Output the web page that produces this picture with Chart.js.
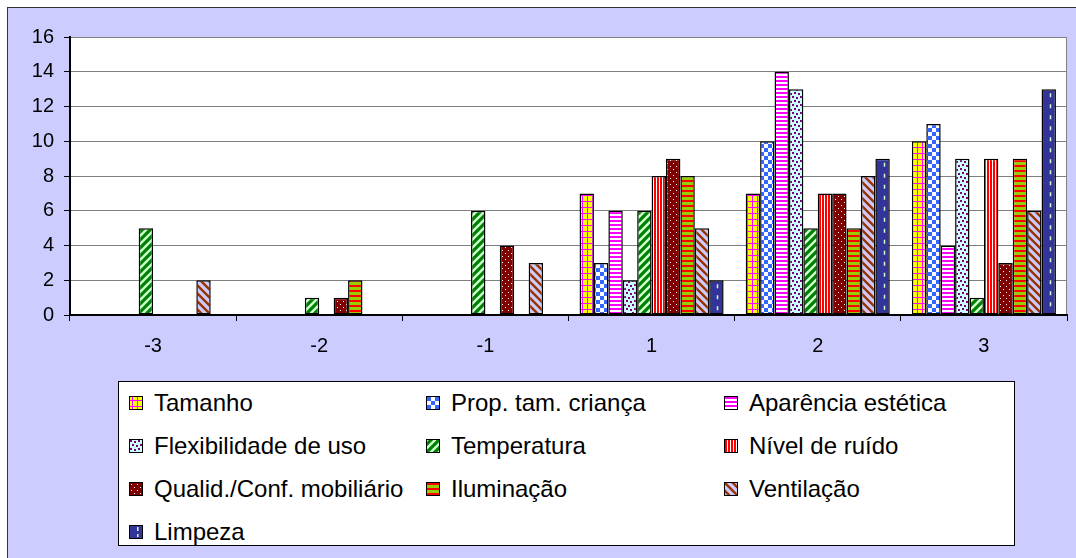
<!DOCTYPE html>
<html><head><meta charset="utf-8">
<script src="https://cdn.jsdelivr.net/npm/chart.js@4.4.1/dist/chart.umd.min.js"></script>
<style>
html,body{margin:0;padding:0;background:#fff;}
#wrap{position:relative;width:1076px;height:558px;background:#fff;overflow:hidden;}
#frame{position:absolute;left:7px;top:7px;width:1200px;height:700px;background:#CCCCFF;border-left:1px solid #333;border-top:1px solid #333;}
#c{position:absolute;left:0;top:0;}
#legend{position:absolute;left:118px;top:381px;width:897px;height:165px;background:#fff;border:1px solid #000;box-sizing:border-box;font-family:"Liberation Sans",Arial,sans-serif;font-size:24px;color:#000;}
.item{position:absolute;height:20px;display:flex;align-items:center;white-space:nowrap;}
.item canvas{display:block;width:12px;height:12px;border:1px solid #000;margin-right:11px;}
</style>
</head><body>
<div id="wrap">
<div id="frame"></div>
<canvas id="c" width="1076" height="558"></canvas>
<div id="legend"></div>
</div>
<script>
// ---- data ----
const categories = ['-3', '-2', '-1', '1', '2', '3'];
const seriesNames = ['Tamanho', 'Prop. tam. criança', 'Aparência estética', 'Flexibilidade de uso', 'Temperatura', 'Nível de ruído', 'Qualid./Conf. mobiliário', 'Iluminação', 'Ventilação', 'Limpeza'];
const tamanho      = [0, 0, 0, 7, 7, 10];
const propTam      = [0, 0, 0, 3, 10, 11];
const aparencia    = [0, 0, 0, 6, 14, 4];
const flexibilidade= [0, 0, 0, 2, 13, 9];
const temperatura  = [5, 1, 6, 6, 5, 1];
const ruido        = [0, 0, 0, 8, 7, 9];
const mobiliario   = [0, 1, 4, 9, 7, 3];
const iluminacao   = [0, 2, 0, 8, 5, 9];
const ventilacao   = [2, 0, 3, 5, 8, 6];
const limpeza      = [0, 0, 0, 2, 9, 13];
const yTicks = [0, 2, 4, 6, 8, 10, 12, 14, 16];
const seriesValues = [tamanho, propTam, aparencia, flexibilidade, temperatura, ruido, mobiliario, iluminacao, ventilacao, limpeza];

// ---- pattern tiles ----
function tile(w, h, draw) { const c = document.createElement('canvas'); c.width = w; c.height = h; const x = c.getContext('2d'); draw(x, w, h); return c; }
const tiles = [
  tile(5, 6, (x) => { x.fillStyle = '#FFFF00'; x.fillRect(0,0,5,6); x.fillStyle = '#FF00FF'; x.fillRect(2,0,1,6); x.fillRect(0,3,5,1); }),
  tile(8, 8, (x) => { x.fillStyle = '#fff'; x.fillRect(0,0,8,8); x.fillStyle = '#3366FF'; x.fillRect(0,0,4,4); x.fillRect(4,4,4,4); }),
  tile(1, 4, (x) => { x.fillStyle = '#fff'; x.fillRect(0,0,1,4); x.fillStyle = '#FF00FF'; x.fillRect(0,0,1,2); }),
  tile(8, 8, (x) => { x.fillStyle = '#CCFFFF'; x.fillRect(0,0,8,8); x.fillStyle = '#800080'; [[0,0],[4,1],[2,4],[6,5]].forEach(p => x.fillRect(p[0], p[1], 2, 2)); }),
  tile(8, 8, (x) => { x.fillStyle = '#008000'; x.fillRect(0,0,8,8); x.strokeStyle = '#CCFFCC'; x.lineWidth = 2.4; x.beginPath(); x.moveTo(-1,9); x.lineTo(9,-1); x.moveTo(-1,1); x.lineTo(1,-1); x.moveTo(7,9); x.lineTo(9,7); x.stroke(); }),
  tile(3, 1, (x) => { x.fillStyle = '#fff'; x.fillRect(0,0,3,1); x.fillStyle = '#FF0000'; x.fillRect(0,0,2,1); }),
  tile(6, 6, (x) => { x.fillStyle = '#800000'; x.fillRect(0,0,6,6); x.fillStyle = '#fff'; x.fillRect(1,1,1,1); x.fillRect(4,4,1,1); }),
  tile(1, 5, (x) => { x.fillStyle = '#99CC00'; x.fillRect(0,0,1,5); x.fillStyle = '#FF0000'; x.fillRect(0,0,1,2); }),
  tile(8, 8, (x) => { x.fillStyle = '#CCCCFF'; x.fillRect(0,0,8,8); x.strokeStyle = '#993300'; x.lineWidth = 2.4; x.beginPath(); x.moveTo(-1,-1); x.lineTo(9,9); x.moveTo(-1,7); x.lineTo(1,9); x.moveTo(7,-1); x.lineTo(9,1); x.stroke(); }),
  tile(4, 4, (x) => { x.fillStyle = '#333399'; x.fillRect(0,0,4,4); })
];

const canvas = document.getElementById('c');
const ctx = canvas.getContext('2d');
const patterns = tiles.map(t => ctx.createPattern(t, 'repeat'));

const FONT = '"Liberation Sans", Arial, sans-serif';

const plotBg = {
  id: 'plotBg',
  beforeDraw(chart) {
    const a = chart.chartArea, c = chart.ctx;
    c.save(); c.fillStyle = '#fff'; c.fillRect(a.left, a.top, a.right - a.left, a.bottom - a.top);
    c.strokeStyle = '#808080'; c.lineWidth = 1; c.strokeRect(a.left + 0.5, a.top + 0.5, a.right - a.left - 1, a.bottom - a.top); c.restore();
  }
};
const limpDash = {
  id: 'limpDash',
  afterDatasetsDraw(chart) {
    const meta = chart.getDatasetMeta(9), c = chart.ctx;
    c.save(); c.strokeStyle = '#CCFFCC'; c.lineWidth = 1.5; c.setLineDash([4, 7]);
    meta.data.forEach((el, i) => {
      if (!limpeza[i]) return;
      const p = el.getProps(['x', 'y', 'base'], true);
      c.beginPath(); c.moveTo(Math.round(p.x) + 1.5, p.y + 4); c.lineTo(Math.round(p.x) + 1.5, p.base - 2); c.stroke();
    });
    c.restore();
  }
};

new Chart(ctx, {
  type: 'bar',
  data: {
    labels: categories,
    datasets: seriesNames.map((n, i) => ({
      label: n, data: seriesValues[i], backgroundColor: patterns[i],
      borderColor: '#000', borderWidth: 1.5, borderSkipped: false,
      categoryPercentage: 0.867, barPercentage: 1.0
    }))
  },
  options: {
    responsive: false, animation: false,
    layout: { padding: { top: 37, right: 9, left: 0, bottom: 0 } },
    plugins: { legend: { display: false }, tooltip: { enabled: false } },
    scales: {
      x: {
        offset: true,
        grid: { offset: true, drawOnChartArea: false, drawTicks: true, tickLength: 6, color: '#000' },
        border: { color: '#000', width: 2 },
        ticks: { color: '#000', font: { family: FONT, size: 20 }, padding: 13 },
        afterFit(s) { s.height = 243; }
      },
      y: {
        min: 0, max: 16,
        afterBuildTicks(s) { s.ticks = yTicks.map(v => ({ value: v })); },
        grid: { color: '#808080', tickLength: 6, tickColor: '#000' },
        border: { color: '#000', width: 2 },
        ticks: { color: '#000', font: { family: FONT, size: 20 }, padding: 10 },
        afterFit(s) { s.width = 70; }
      }
    }
  },
  plugins: [plotBg, limpDash]
});

// ---- legend ----
const legend = document.getElementById('legend');
const colX = [10, 307, 605];
const rowY = [21, 64, 107, 150];
seriesNames.forEach((n, i) => {
  const d = document.createElement('div'); d.className = 'item';
  d.style.left = colX[i % 3] + 'px'; d.style.top = (rowY[Math.floor(i / 3)] - 10) + 'px';
  const sw = document.createElement('canvas'); sw.width = 12; sw.height = 12;
  const sx = sw.getContext('2d'); sx.fillStyle = sx.createPattern(tiles[i], 'repeat'); sx.fillRect(0, 0, 12, 12);
  if (i === 9) { sx.fillStyle = '#CCFFCC'; sx.fillRect(7, 1, 1.5, 4); sx.fillRect(7, 8, 1.5, 3); }
  const t = document.createElement('span'); t.textContent = n;
  d.appendChild(sw); d.appendChild(t); legend.appendChild(d);
});
</script>
</body></html>
